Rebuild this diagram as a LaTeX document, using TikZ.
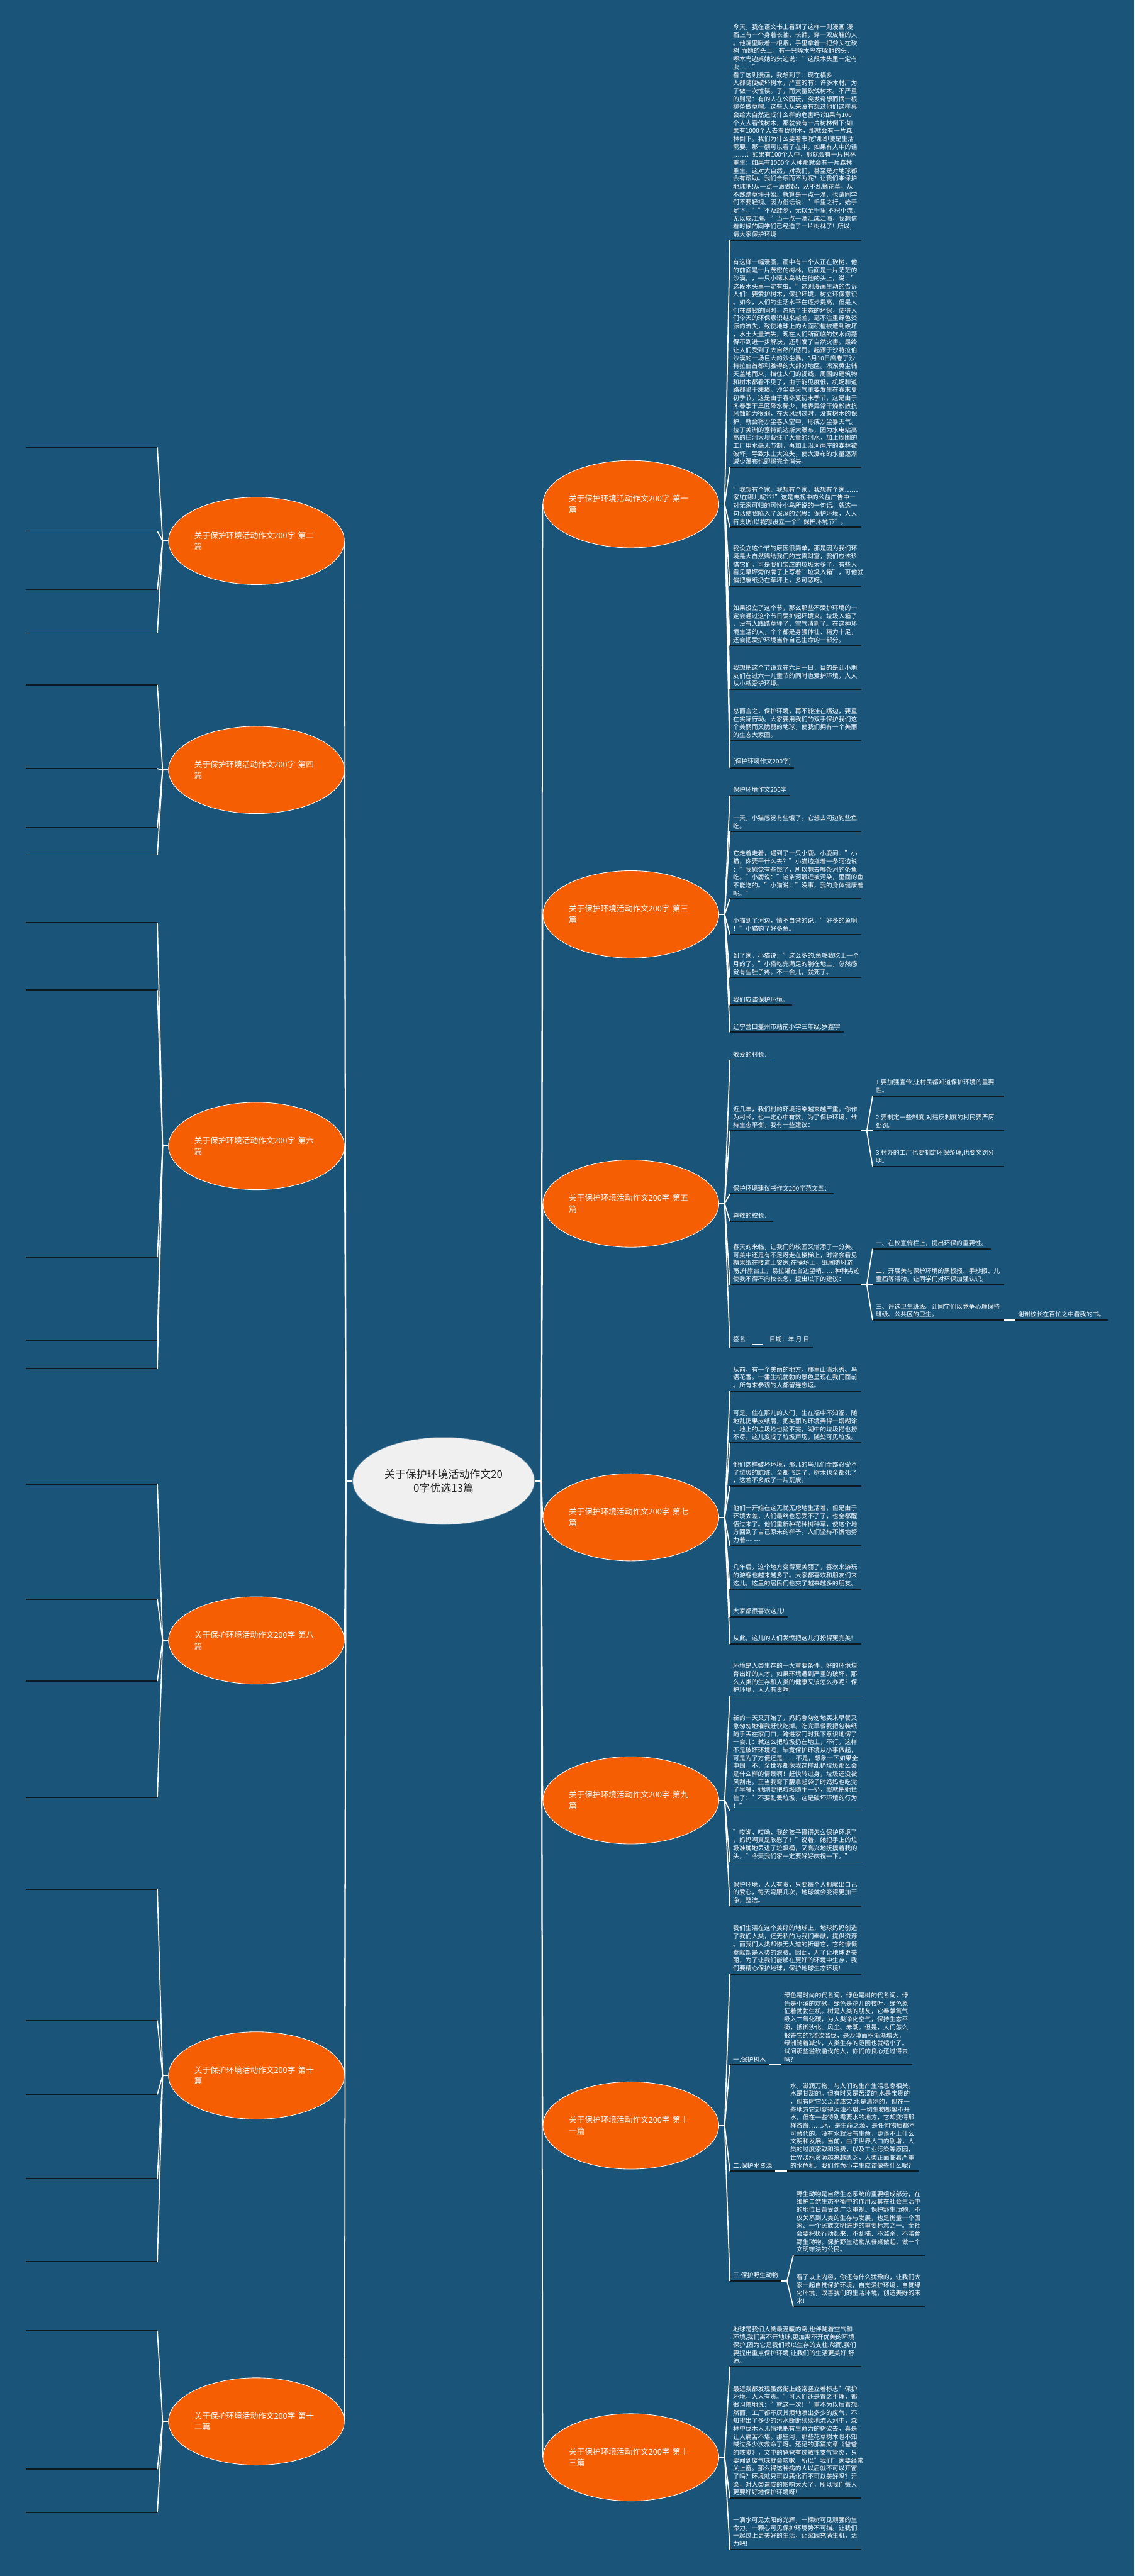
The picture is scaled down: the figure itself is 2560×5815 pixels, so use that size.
\documentclass[tikz,border=0pt]{standalone}
\usepackage{fontspec}
\setmainfont{Noto Sans CJK SC}
\usetikzlibrary{shapes.geometric}
\definecolor{bg}{RGB}{26,84,120}
\definecolor{org}{RGB}{246,94,4}
\definecolor{uln}{RGB}{12,26,36}
\definecolor{ctrfill}{RGB}{240,240,240}
\begin{document}
\begin{tikzpicture}[x=1pt,y=-1pt,
  conn/.style={draw=white,line width=2.5pt},
  ul/.style={draw=uln,line width=2.5pt},
  itm/.style={font=\fontsize{14}{18}\selectfont,text=white,inner xsep=7pt,inner ysep=6pt,align=left,anchor=south west,
    append after command={(\tikzlastnode.south west) edge[ul] (\tikzlastnode.south east)}},
  blk/.style={itm,text width=282pt},
  lblk/.style={blk,anchor=south east},
  br/.style={ellipse,fill=org,draw=white,line width=1.2pt,minimum width=397pt,minimum height=197pt,text width=280pt,align=left,inner sep=0pt,font=\fontsize{18}{25}\selectfont,text=white},
  ctr/.style={ellipse,fill=ctrfill,draw=bg!70!white,line width=1pt,minimum width=397pt,minimum height=197pt,text width=290pt,align=center,inner sep=0pt,font=\fontsize{24}{32}\selectfont,text=black!85}
]
\useasboundingbox (0,0) rectangle (2560,5815);
\fill[bg] (0,0) rectangle (2560,5815);

% centre
\node[ctr] (c) at (1001,3343) {关于保护环境活动作文20\\0字优选13篇};
\coordinate (cl) at ([xshift=-15pt]c.west);
\coordinate (cr) at ([xshift=15pt]c.east);
\draw[conn] (c.west) -- (cl);
\draw[conn] (c.east) -- (cr);

% left branch ellipses
\node[br] (l2) at (578.5,1221) {关于保护环境活动作文200字 第二\\篇};
\node[br] (l4) at (578.5,1738) {关于保护环境活动作文200字 第四\\篇};
\node[br] (l6) at (578.5,2587) {关于保护环境活动作文200字 第六\\篇};
\node[br] (l8) at (578.5,3703) {关于保护环境活动作文200字 第八\\篇};
\node[br] (l10) at (578.5,4685) {关于保护环境活动作文200字 第十\\篇};
\node[br] (l12) at (578.5,5466) {关于保护环境活动作文200字 第十\\二篇};
\foreach \n in {l2,l4,l6,l8,l10,l12} {
  \draw[conn] (cl) -- (\n.east);
  \coordinate (\n j) at ([xshift=-12.5pt]\n.west);
  \draw[conn] (\n.west) -- (\n j);
}

% left items (structure)
\foreach \n/\y in {l2a/1010,l2b/1199,l2c/1331,l2d/1429} {\node[lblk] (\n) at (355,\y) {}; \draw[conn] (l2j) -- (\n.south east);}
\foreach \n/\y in {l4a/1546,l4b/1735,l4c/1868,l4d/1930} {\node[lblk] (\n) at (355,\y) {}; \draw[conn] (l4j) -- (\n.south east);}
\foreach \n/\y in {l6a/2083,l6b/2235,l6c/2838,l6d/3025,l6e/3089} {\node[lblk] (\n) at (355,\y) {}; \draw[conn] (l6j) -- (\n.south east);}
\foreach \n/\y in {l8a/3350,l8b/3610,l8c/3795,l8d/4057} {\node[lblk] (\n) at (355,\y) {}; \draw[conn] (l8j) -- (\n.south east);}
\foreach \n/\y in {l10a/4265,l10b/4561,l10c/4728,l10d/4918,l10e/5105} {\node[lblk] (\n) at (355,\y) {}; \draw[conn] (l10j) -- (\n.south east);}
\foreach \n/\y in {l12a/5261,l12b/5574,l12c/5671} {\node[lblk] (\n) at (355,\y) {}; \draw[conn] (l12j) -- (\n.south east);}

% right branch ellipses
\node[br] (r1) at (1423.5,1138) {关于保护环境活动作文200字 第一\\篇};
\node[br] (r3) at (1423.5,2064) {关于保护环境活动作文200字 第三\\篇};
\node[br] (r5) at (1423.5,2717) {关于保护环境活动作文200字 第五\\篇};
\node[br] (r7) at (1423.5,3425) {关于保护环境活动作文200字 第七\\篇};
\node[br] (r9) at (1423.5,4064) {关于保护环境活动作文200字 第九\\篇};
\node[br] (r11) at (1423.5,4798) {关于保护环境活动作文200字 第十\\一篇};
\node[br] (r13) at (1423.5,5547) {关于保护环境活动作文200字 第十\\三篇};
\foreach \n in {r1,r3,r5,r7,r9,r11,r13} {
  \draw[conn] (cr) -- (\n.west);
  \coordinate (\n j) at ([xshift=12.5pt]\n.east);
  \draw[conn] (\n.east) -- (\n j);
}

% ---------- 第一篇 ----------
\node[blk] (r1a) at (1647,542) {今天，我在语文书上看到了这样一则漫画 漫\\画上有一个身着长袖，长裤，穿一双皮鞋的人\\。他嘴里瞅着一根烟，手里拿着一把斧头在砍\\树 而她的头上，有一只啄木鸟在啄他的头，\\啄木鸟边桌她的头边说："这段木头里一定有\\虫……" 看了这则漫画，我想到了：现在横多\\人都随便破坏树木，严重的有：许多木材厂为\\了做一次性筷。子，而大量砍伐树木。不严重\\的则是：有的人在公园玩，突发奇想而摘一根\\柳条做草帽。这些人从来没有想过他们这样桌\\会给大自然造成什么样的危害吗?如果有100\\个人去看伐树木，那就会有一片树林倒下;如\\果有1000个人去看伐树木，那就会有一片森\\林倒下。我们为什么要看书呢?那即使是生活\\需要，那一额可以看了在中，如果有人中的话\\……：如果有100个人中，那就会有一片树林\\重生：如果有1000个人种那就会有一片森林\\重生。这对大自然，对我们，甚至是对地球都\\会有帮助。我们合乐而不为呢? 让我们来保护\\地球吧!从一点一滴做起，从不乱摘花草，从\\不践踏草坪开始。就算是一点一滴，也请同学\\们不要轻视。因为俗话说："千里之行，始于\\足下。""不及跬步，无以至千里;不积小流，\\无以成江海。"当一点一滴汇成江海，我想信\\着时候的同学们已经造了一片树林了! 所以,\\请大家保护环境};
\node[blk] (r1b) at (1647,1055) {有这样一幅漫画，画中有一个人正在砍树，他\\的前面是一片茂密的树林，后面是一片茫茫的\\沙漠，，一只小啄木鸟站在他的头上，说："\\这段木头里一定有虫。"这则漫画生动的告诉\\人们：要爱护树木，保护环境，树立环保意识\\。如今，人们的生活水平在逐步提高，但是人\\们在赚钱的同时，忽略了生态的环保，使得人\\们今天的环保意识越来越差，毫不注重绿色资\\源的流失，致使地球上的大面积植被遭到破坏\\，水土大量流失，现在人们所面临的饮水问题\\得不到进一步解决，还引发了自然灾害。最终\\让人们受到了大自然的惩罚。起源于沙特拉伯\\沙漠的一场巨大的沙尘暴，3月10日席卷了沙\\特拉伯首都利雅得的大部分地区。滚滚黄尘铺\\天盖地而来，挡住人们的视线，周围的建筑物\\和树木都看不见了，由于能见度低，机场和道\\路都陷于瘫痪。沙尘暴天气主要发生在春末夏\\初季节，这是由于春冬夏初末季节，这是由于\\冬春季干旱区降水稀少，地表异常干燥松散抗\\风蚀能力很弱，在大风刮过时，没有树木的保\\护，就会将沙尘卷入空中，形成沙尘暴天气。\\拉丁美洲的塞特凯达斯大瀑布，因为水电站高\\高的拦河大坝截住了大量的河水，加上周围的\\工厂用水毫无节制，再加上沿河两岸的森林被\\破坏，导致水土大流失，使大瀑布的水量逐渐\\减少瀑布也即将完全消失。};
\node[blk] (r1c) at (1647,1190) {"我想有个家，我想有个家，我想有个家……\\家!在哪儿呢???"这是电视中的公益广告中一\\对无家可归的可怜小鸟所说的一句话。就这一\\句话使我陷入了深深的沉思：保护环境，人人\\有责!所以我想设立一个"保护环境节"。};
\node[blk] (r1d) at (1647,1323) {我设立这个节的原因很简单，那是因为我们环\\境是大自然赐给我们的宝贵财富，我们应该珍\\惜它们。可是我们宝应的垃圾太多了，有些人\\看见草坪旁的牌子上写着"垃圾入箱"，可他就\\偏把废纸扔在草坪上，多可恶呀。};
\node[blk] (r1e) at (1647,1457) {如果设立了这个节，那么那些不爱护环境的一\\定会通过这个节日爱护起环境来。垃圾入箱了\\，没有人践踏草坪了，空气清新了。在这种环\\境生活的人，个个都是身强体壮、精力十足，\\还会把爱护环境当作自己生命的一部分。};
\node[blk] (r1f) at (1647,1556) {我想把这个节设立在六月一日，目的是让小朋\\友们在过六一儿童节的同时也爱护环境，人人\\从小就爱护环境。};
\node[blk] (r1g) at (1647,1672) {总而言之，保护环境，再不能挂在嘴边，要重\\在实际行动。大家要用我们的双手保护我们这\\个美丽而又脆弱的地球，使我们拥有一个美丽\\的生态大家园。};
\node[itm] (r1h) at (1647,1733) {[保护环境作文200字]};
\foreach \n in {r1a,r1b,r1c,r1d,r1e,r1f,r1g,r1h} \draw[conn] (r1j) -- (\n.south west);

% ---------- 第三篇 ----------
\node[itm] (r3a) at (1647,1796) {保护环境作文200字};
\node[blk] (r3b) at (1647,1877) {一天，小猫感觉有些饿了。它想去河边钓些鱼\\吃。};
\node[blk] (r3c) at (1647,2029) {它走着走着，遇到了一只小鹿。小鹿问："小\\猫，你要干什么去？"小猫边指着一条河边说\\："我感觉有些饿了，所以想去哪条河钓条鱼\\吃。"小鹿说："这条河最近被污染，里面的鱼\\不能吃的。"小猫说："没事，我的身体健康着\\呢。"};
\node[blk] (r3d) at (1647,2109) {小猫到了河边，情不自禁的说："好多的鱼啊\\！"小猫钓了好多鱼。};
\node[blk] (r3e) at (1647,2207) {到了家，小猫说："这么多的.鱼够我吃上一个\\月的了。"小猫吃完满足的躺在地上，忽然感\\觉有些肚子疼。不一会儿，就死了。};
\node[itm] (r3f) at (1647,2269) {我们应该保护环境。};
\node[itm] (r3g) at (1647,2330) {辽宁营口盖州市站前小学三年级:罗鑫宇};
\foreach \n in {r3a,r3b,r3c,r3d,r3e,r3f,r3g} \draw[conn] (r3j) -- (\n.south west);

% ---------- 第五篇 ----------
\node[itm] (r5a) at (1647,2393) {敬爱的村长：};
\node[blk] (r5b) at (1647,2553) {近几年，我们村的环境污染越来越严重。你作\\为村长，也一定心中有数。为了保护环境，维\\持生态平衡，我有一些建议：};
\node[itm] (r5c) at (1647,2695) {保护环境建议书作文200字范文五：};
\node[itm] (r5d) at (1647,2757) {尊敬的校长：};
\node[blk] (r5e) at (1647,2900) {春天的来临，让我们的校园又增添了一分美。\\可美中还是有不足呀走在楼梯上，时常会看见\\糖果纸在楼道上安家;在操场上，纸屑随风游\\荡;升旗台上，易拉罐在台边望哨……种种劣迹\\使我不得不向校长您，提出以下的建议：};
\node[itm] (r5f) at (1647,3042) {签名：\raisebox{-7pt}{\color{white}\rule{26pt}{2.5pt}}\quad 日期：年 月 日};
\foreach \n in {r5a,r5b,r5c,r5d,r5e,r5f} \draw[conn] (r5j) -- (\n.south west);
\coordinate (r5bj) at ([xshift=12.5pt]r5b.south east);
\draw[conn] (r5b.south east) -- (r5bj);
\node[blk] (r5b1) at (1969,2474) {1.要加强宣传,让村民都知道保护环境的重要\\性。};
\node[blk] (r5b2) at (1969,2553) {2.要制定一些制度,对违反制度的村民要严厉\\处罚。};
\node[blk] (r5b3) at (1969,2633) {3.村办的工厂也要制定环保条理,也要奖罚分\\明。};
\foreach \n in {r5b1,r5b2,r5b3} \draw[conn] (r5bj) -- (\n.south west);
\coordinate (r5ej) at ([xshift=12.5pt]r5e.south east);
\draw[conn] (r5e.south east) -- (r5ej);
\node[itm] (r5e1) at (1969,2819) {一、在校宣传栏上，提出环保的重要性。};
\node[blk] (r5e2) at (1969,2900) {二、开展关与保护环境的黑板报、手抄报、儿\\童画等活动。让同学们对环保加强认识。};
\node[blk] (r5e3) at (1969,2980) {三、评选卫生班级。让同学们以竞争心理保持\\班级、公共区的卫生。};
\foreach \n in {r5e1,r5e2,r5e3} \draw[conn] (r5ej) -- (\n.south west);
\node[itm] (r5e3a) at (2290,2980) {谢谢校长在百忙之中看我的书。};
\draw[conn] (r5e3.south east) -- (r5e3a.south west);

% ---------- 第七篇 ----------
\node[blk] (r7a) at (1647,3140) {从前，有一个美丽的地方，那里山清水秀、鸟\\语花香。一番生机勃勃的景色呈现在我们面前\\。所有来参观的人都留连忘返。};
\node[blk] (r7b) at (1647,3257) {可是，住在那儿的人们，生在福中不知福，随\\地乱扔果皮纸屑，把美丽的环境弄得一塌糊涂\\。地上的垃圾捡也捡不完，湖中的垃圾捞也捞\\不尽。这儿变成了垃圾声场，随处可见垃圾。};
\node[blk] (r7c) at (1647,3355) {他们这样破坏环境，那儿的鸟儿们全部忍受不\\了垃圾的肮脏，全都飞走了，树木也全都死了\\，这差不多成了一片荒废。};
\node[blk] (r7d) at (1647,3489) {他们一开始在这无忧无虑地生活着，但是由于\\环境太差，人们最终也忍受不了了，也全都醒\\悟过来了。他们重新种花种树种草，使这个地\\方回到了自己原来的样子。人们坚持不懈地努\\力着-{}-{}- -{}-{}-};
\node[blk] (r7e) at (1647,3587) {几年后，这个地方变得更美丽了，喜欢来游玩\\的游客也越来越多了。大家都喜欢和朋友们来\\这儿，这里的居民们也交了越来越多的朋友。};
\node[itm] (r7f) at (1647,3650) {大家都很喜欢这儿!};
\node[blk] (r7g) at (1647,3711) {从此，这儿的人们发愤把这儿打扮得更完美!};
\foreach \n in {r7a,r7b,r7c,r7d,r7e,r7f,r7g} \draw[conn] (r7j) -- (\n.south west);

% ---------- 第九篇 ----------
\node[blk] (r9a) at (1647,3828) {环境是人类生存的一大重要条件，好的环境培\\育出好的人才，如果环境遭到严重的破坏，那\\么人类的生存和人类的健康又该怎么办呢？保\\护环境，人人有责啊!};
\node[blk] (r9b) at (1647,4088) {新的一天又开始了，妈妈急匆匆地买来早餐又\\急匆匆地催我赶快吃掉。吃完早餐我把包装纸\\随手丢在家门口，跨进家门时我下意识地愣了\\一会儿：就这么把垃圾扔在地上，不行，这样\\不是破坏环境吗，毕竟保护环境从小事做起，\\可是为了方便还是……不是，想象一下如果全\\中国，不，全世界都像我这样乱扔垃圾那么会\\是什么样的情景啊！赶快转过身，垃圾还没被\\风刮走。正当我弯下腰拿起袋子时妈妈也吃完\\了早餐，她刚要把垃圾随手一扔，我就把她拦\\住了："不要乱丢垃圾，这是破坏环境的行为\\！"};
\node[blk] (r9c) at (1647,4203) {"哎呦，哎呦，我的孩子懂得怎么保护环境了\\，妈妈啊真是欣慰了！"说着，她把手上的垃\\圾准确地丢进了垃圾桶，又高兴地抚摸着我的\\头，"今天我们家一定要好好庆祝一下。"};
\node[blk] (r9d) at (1647,4303) {保护环境，人人有责，只要每个人都献出自己\\的爱心，每天弯腰几次，地球就会变得更加干\\净，整洁。};
\foreach \n in {r9a,r9b,r9c,r9d} \draw[conn] (r9j) -- (\n.south west);

% ---------- 第十一篇 ----------
\node[blk] (r11a) at (1647,4456) {我们生活在这个美好的地球上，地球妈妈创造\\了我们人类，还无私的为我们奉献，提供资源\\。而我们人类却惨无人道的折磨它，它的慷慨\\奉献却是人类的浪费。因此，为了让地球更美\\丽，为了让我们能够在更好的环境中生存，我\\们要精心保护地球，保护地球生态环境!};
\node[itm] (r11b) at (1647,4661) {一.保护树木};
\node[itm] (r11c) at (1647,4901) {二.保护水资源};
\node[itm] (r11d) at (1647,5149) {三.保护野生动物};
\foreach \n in {r11a,r11b,r11c,r11d} \draw[conn] (r11j) -- (\n.south west);
\node[blk] (r11b1) at (1762,4661) {绿色是时尚的代名词，绿色是树的代名词，绿\\色是小溪的欢歌，绿色是花儿的枝叶，绿色象\\征着勃勃生机。树是人类的朋友，它奉献氧气\\吸入二氧化碳，为人类净化空气，保持生态平\\衡，抵御沙化、风尘、赤潮。但是，人们怎么\\报答它的?滥砍滥伐，是沙漠面积渐渐增大，\\绿洲随着减少，人类生存的范围也就缩小了。\\试问那些滥砍滥伐的人，你们的良心还过得去\\吗?};
\draw[conn] (r11b.south east) -- (r11b1.south west);
\node[blk] (r11c1) at (1776,4901) {水，滋润万物，与人们的生产生活息息相关。\\水是甘甜的。但有时又是苦涩的;水是宝贵的\\，但有时它又泛滥成灾;水是清冽的，但在一\\些地方它却变得污浊不堪;一切生物都离不开\\水，但在一些特别需要水的地方，它却变得那\\样吝啬……水，是生命之源，是任何物质都不\\可替代的。没有水就没有生命，更谈不上什么\\文明和发展。当前，由于世界人口的剧增，人\\类的过度索取和浪费，以及工业污染等原因，\\世界淡水资源越来越匮乏，人类正面临着严重\\的水危机。我们作为小学生应该做些什么呢?};
\draw[conn] (r11c.south east) -- (r11c1.south west);
\coordinate (r11dj) at ([xshift=12.5pt]r11d.south east);
\draw[conn] (r11d.south east) -- (r11dj);
\node[blk] (r11d1) at (1790,5091) {野生动物是自然生态系统的重要组成部分，在\\维护自然生态平衡中的作用及其在社会生活中\\的地位日益受到广泛重视。保护野生动物，不\\仅关系到人类的生存与发展，也是衡量一个国\\家、一个民族文明进步的重要标志之一。全社\\会要积极行动起来，不乱捕、不滥杀、不滥食\\野生动物，保护野生动物从餐桌做起，做一个\\文明守法的公民。};
\node[blk] (r11d2) at (1790,5207) {看了以上内容，你还有什么犹豫的，让我们大\\家一起自觉保护环境，自觉爱护环境，自觉绿\\化环境，改善我们的生活环境，创造美好的未\\来!};
\foreach \n in {r11d1,r11d2} \draw[conn] (r11dj) -- (\n.south west);

% ---------- 第十三篇 ----------
\node[blk] (r13a) at (1647,5342) {地球是我们人类最温暖的窝,也伴随着空气和\\环境,我们离不开地球,更加离不开优美的环境\\保护,因为它是我们赖以生存的支柱,然而,我们\\要提出重点保护环境,让我们的生活更美好,舒\\适。};
\node[blk] (r13b) at (1647,5639) {最近我都发现虽然街上经常竖立着标志"保护\\环境，人人有责。"可人们还是置之不理，都\\很习惯地说："就这一次！"重不为以后着想。\\然而，工厂都不厌其烦地喷出多少的废气，不\\知排出了多少的污水断断续续地流入河中，森\\林中伐木人无情地把有生命力的树砍去，真是\\让人痛苦不堪。那些河，那些花草树木也不知\\喊过多少次救命了呀。还记的那篇文章《爸爸\\的咳嗽》，文中的爸爸有过敏性支气管炎，只\\要闻到废气味就会咳嗽，所以"我们"家要经常\\关上窗。那么得这种病的人以后就不可以开窗\\了吗？环境就只可以恶化而不可以美好吗？污\\染，对人类造成的影响太大了，所以我们每人\\更要好好地保护环境呀!};
\node[blk] (r13c) at (1647,5755) {一滴水可见太阳的光辉，一棵树可见顽强的生\\命力，一颗心可见保护环境势不可挡。让我们\\一起过上更美好的生活，让家园充满生机，活\\力吧!};
\foreach \n in {r13a,r13b,r13c} \draw[conn] (r13j) -- (\n.south west);
\end{tikzpicture}
\end{document}
